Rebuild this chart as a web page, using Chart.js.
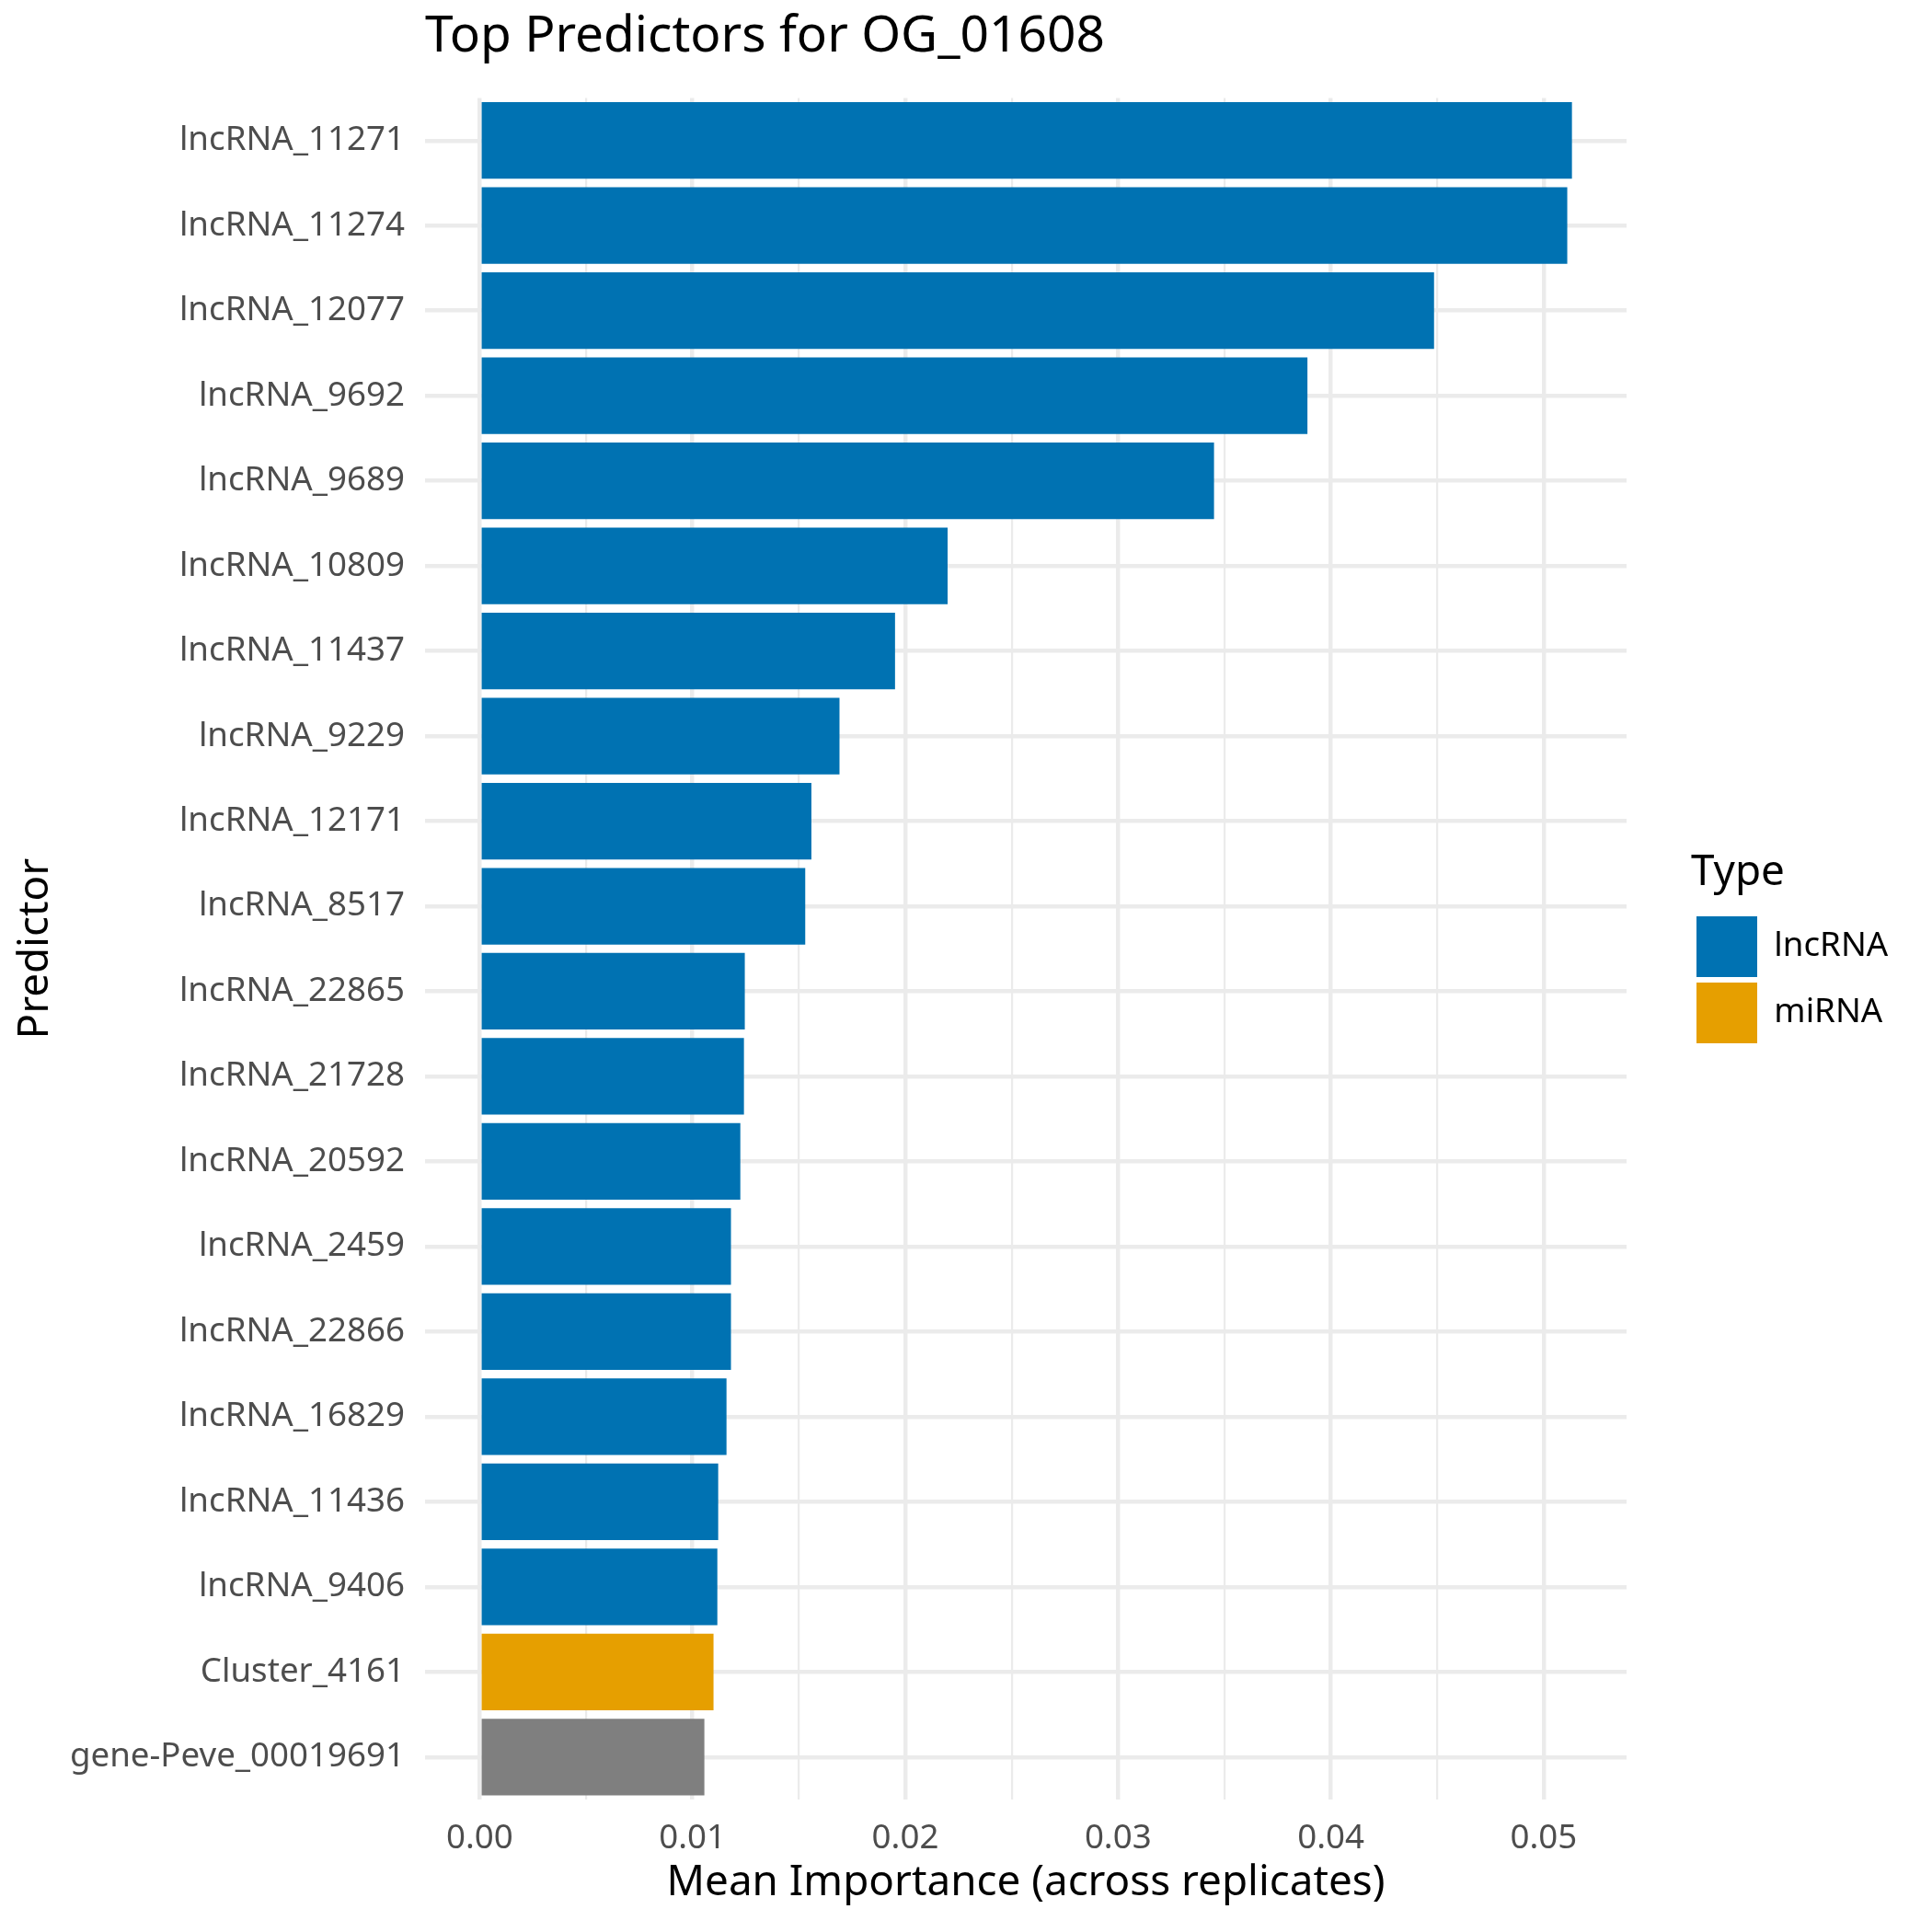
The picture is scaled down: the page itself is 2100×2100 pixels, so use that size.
<!DOCTYPE html>
<html>
<head>
<meta charset="utf-8">
<title>Top Predictors for OG_01608</title>
<script src="https://cdn.jsdelivr.net/npm/chart.js@4.4.1/dist/chart.umd.min.js"></script>
<style>
    html, body { margin: 0; padding: 0; background: #fff; }
    canvas { display: block; }
</style>
</head>
<body>
<canvas id="importance-chart" width="2100" height="2100"></canvas>
<script>
// Predictors, top to bottom
const predictors = [
    'lncRNA_11271', 'lncRNA_11274', 'lncRNA_12077', 'lncRNA_9692', 'lncRNA_9689',
    'lncRNA_10809', 'lncRNA_11437', 'lncRNA_9229', 'lncRNA_12171', 'lncRNA_8517',
    'lncRNA_22865', 'lncRNA_21728', 'lncRNA_20592', 'lncRNA_2459', 'lncRNA_22866',
    'lncRNA_16829', 'lncRNA_11436', 'lncRNA_9406', 'Cluster_4161', 'gene-Peve_00019691'
];
const meanImportance = [
    0.05133, 0.05111, 0.04485, 0.03890, 0.03451,
    0.02199, 0.01952, 0.01691, 0.01559, 0.01530,
    0.01246, 0.01242, 0.01225, 0.01181, 0.01181,
    0.01160, 0.01121, 0.01117, 0.01099, 0.01056
];
const predictorTypes = [
    'lncRNA', 'lncRNA', 'lncRNA', 'lncRNA', 'lncRNA',
    'lncRNA', 'lncRNA', 'lncRNA', 'lncRNA', 'lncRNA',
    'lncRNA', 'lncRNA', 'lncRNA', 'lncRNA', 'lncRNA',
    'lncRNA', 'lncRNA', 'lncRNA', 'miRNA', null
];
const legendTypes = ['lncRNA', 'miRNA'];
const xTicks = [0, 0.01, 0.02, 0.03, 0.04, 0.05];
const xMinorTicks = [0.005, 0.015, 0.025, 0.035, 0.045];

const typeColors = { lncRNA: '#0072B2', miRNA: '#E69F00' };
const naColor = '#7F7F7F';
const gridColor = '#EBEBEB';
const FONT = "'Noto Sans', 'Open Sans', sans-serif";

const CANVAS_W = 2100;
const LEGEND_LEFT = 1838;   // where the legend block starts

// ggplot-style expansion: 5% of the data range on each side
const xMax = Math.max(...meanImportance);
const xMin = -0.05 * xMax;
const xLimit = 1.05 * xMax;

Chart.defaults.font.family = FONT;

const chart = new Chart(document.getElementById('importance-chart'), {
    type: 'bar',
    data: {
        labels: predictors,
        datasets: [{
            label: 'Mean Importance',
            data: meanImportance,
            backgroundColor: predictorTypes.map(t => typeColors[t] || naColor),
            borderWidth: 0,
            categoryPercentage: 0.9,
            barPercentage: 1.0
        }]
    },
    options: {
        indexAxis: 'y',
        responsive: false,
        animation: false,
        devicePixelRatio: 1,
        layout: { padding: { left: 0, right: 40, top: 0, bottom: 0 } },
        plugins: {
            title: {
                display: true,
                text: 'Top Predictors for OG_01608',
                align: 'start',
                fullSize: false,
                color: '#000',
                font: { size: 55, weight: 'normal' },
                padding: { top: 7.7, bottom: 32.8 }
            },
            legend: {
                display: true,
                position: 'right',
                align: 'center',
                fullSize: false,
                onClick: null,
                title: {
                    display: true,
                    text: 'Type',
                    position: 'start',
                    color: '#000',
                    font: { size: 45.8 },
                    padding: { top: 4, bottom: 8.6 }
                },
                labels: {
                    boxWidth: 66,
                    boxHeight: 66,
                    padding: 6,
                    color: '#000',
                    font: { size: 36.7 },
                    generateLabels: () => legendTypes.map(t => ({
                        text: t,
                        fillStyle: typeColors[t],
                        strokeStyle: typeColors[t],
                        lineWidth: 0,
                        hidden: false,
                        datasetIndex: 0
                    }))
                }
            },
            tooltip: { enabled: false }
        },
        scales: {
            x: {
                type: 'linear',
                position: 'bottom',
                min: xMin,
                max: xLimit,
                afterBuildTicks: s => { s.ticks = xTicks.map(v => ({ value: v })); },
                afterFit: s => { s.height = 144; },
                grid: { color: gridColor, lineWidth: 4.44, drawTicks: false },
                border: { display: false },
                ticks: {
                    color: '#4D4D4D',
                    font: { size: 36.7 },
                    padding: 21,
                    maxRotation: 0,
                    autoSkip: false,
                    callback: v => v.toFixed(2)
                },
                title: {
                    display: true,
                    text: 'Mean Importance (across replicates)',
                    color: '#000',
                    font: { size: 45.8 },
                    padding: { top: 0, bottom: 25.5 }
                }
            },
            // minor vertical grid lines only
            xMinor: {
                type: 'linear',
                axis: 'x',
                position: 'bottom',
                min: xMin,
                max: xLimit,
                afterBuildTicks: s => { s.ticks = xMinorTicks.map(v => ({ value: v })); },
                afterFit: s => { s.height = 0; },
                grid: { color: gridColor, lineWidth: 2.22, drawTicks: false },
                border: { display: false },
                ticks: { display: false }
            },
            y: {
                type: 'category',
                position: 'left',
                offset: true,
                afterFit: s => { s.width = 462; },
                grid: { color: gridColor, lineWidth: 4.44, drawTicks: false, offset: false },
                border: { display: false },
                ticks: {
                    color: '#4D4D4D',
                    font: { size: 36.7 },
                    padding: 22,
                    autoSkip: false
                },
                title: {
                    display: true,
                    text: 'Predictor',
                    color: '#000',
                    font: { size: 45.8 },
                    padding: { top: 11.5, bottom: 0 }
                }
            },
            // empty spacer between the panel and the legend
            gap: {
                type: 'linear',
                axis: 'y',
                position: 'right',
                afterFit: s => { s.width = 70; },
                grid: { display: false },
                border: { display: false },
                ticks: { display: false }
            }
        }
    }
});

// pin the legend's left edge now that its natural width is known
chart.options.layout.padding.right = CANVAS_W - LEGEND_LEFT - chart.legend.width;
chart.update();
</script>
</body>
</html>
